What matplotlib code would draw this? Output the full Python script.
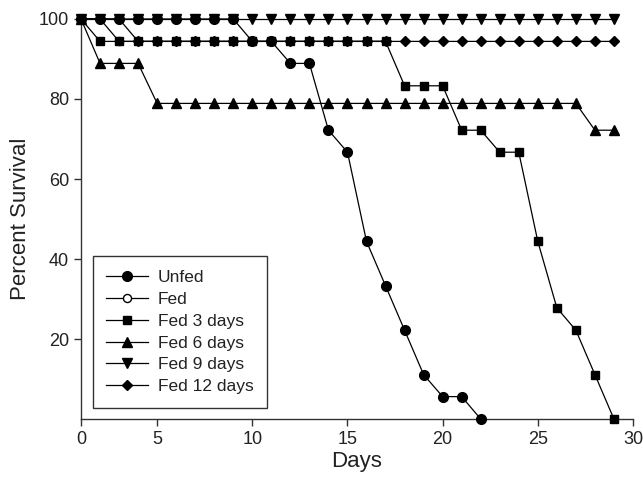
import numpy as np
import matplotlib.pyplot as plt

plt.rcParams['font.family'] = ['Liberation Sans', 'DejaVu Sans']

# Days 1..29
days = list(range(1, 30))

unfed = [100] * 9 + [94.4, 94.4, 88.9, 88.9, 72.2, 66.7, 44.4, 33.3, 22.2, 11.1, 5.6, 5.6, 0.0]
fed = [100, 100] + [94.4] * 15
fed3 = [100] + [94.4] * 16 + [83.3] * 3 + [72.2, 72.2, 66.7, 66.7, 44.4, 27.8, 22.2, 11.1, 0.0]
fed6 = [100, 88.9, 88.9, 88.9] + [78.9] * 23 + [72.2, 72.2]
fed9 = [100] * 29
fed12 = [100] * 3 + [94.4] * 26

xtick_pos = [1, 5, 10, 15, 20, 25, 30]
xtick_labels = ['0', '5', '10', '15', '20', '25', '30']
ytick_pos = [20, 40, 60, 80, 100]

fig = plt.figure(figsize=(6.43, 4.87), dpi=100)
ax = fig.add_axes([0.126, 0.1396, 0.8584, 0.8214])

lw = 0.9
# unfed drawn on top of the rest
ax.plot(days[:len(unfed)], unfed, color='black', lw=lw, marker='o', ms=7,
        mfc='black', mec='black', label='Unfed', clip_on=False, zorder=8)
ax.plot(days[:len(fed)], fed, color='black', lw=lw, marker='o', ms=5.8,
        mfc='white', mec='black', label='Fed', clip_on=False, zorder=2)
ax.plot(days, fed3, color='black', lw=lw, marker='s', ms=5.9,
        mfc='black', mec='black', label='Fed 3 days', clip_on=False, zorder=4)
ax.plot(days, fed6, color='black', lw=lw, marker='^', ms=7.6,
        mfc='black', mec='black', label='Fed 6 days', clip_on=False, zorder=3)
ax.plot(days, fed9, color='black', lw=lw, marker='v', ms=7.6,
        mfc='black', mec='black', label='Fed 9 days', clip_on=False, zorder=3)
ax.plot(days, fed12, color='black', lw=lw, marker='D', ms=5.6,
        mfc='black', mec='black', label='Fed 12 days', clip_on=False, zorder=5)

ax.set_xlim(1, 30)
ax.set_ylim(0, 100)
ax.set_xticks(xtick_pos)
ax.set_xticklabels(xtick_labels)
ax.set_yticks(ytick_pos)
ax.spines['top'].set_visible(False)
ax.spines['right'].set_visible(False)
for s in ['left', 'bottom']:
    ax.spines[s].set_linewidth(1.0)
    ax.spines[s].set_color('#333333')
ax.tick_params(direction='out', length=5, width=1, colors='#333333',
               labelsize=13, labelcolor='#222222')

ax.set_xlabel('Days', fontsize=16, color='#222222', labelpad=2)
ax.set_ylabel('Percent Survival', fontsize=16, color='#222222', labelpad=6)

leg = ax.legend(loc='lower left', bbox_to_anchor=(0.021, 0.0275), fontsize=12.5,
                frameon=True, fancybox=False, borderpad=0.8, labelspacing=0.38,
                handlelength=2.4, handletextpad=0.55, borderaxespad=0)
leg.set_zorder(10)
leg.get_frame().set_edgecolor('black')
leg.get_frame().set_linewidth(1.0)
for t in leg.get_texts():
    t.set_color('#222222')

plt.savefig('out.png', dpi=100)
